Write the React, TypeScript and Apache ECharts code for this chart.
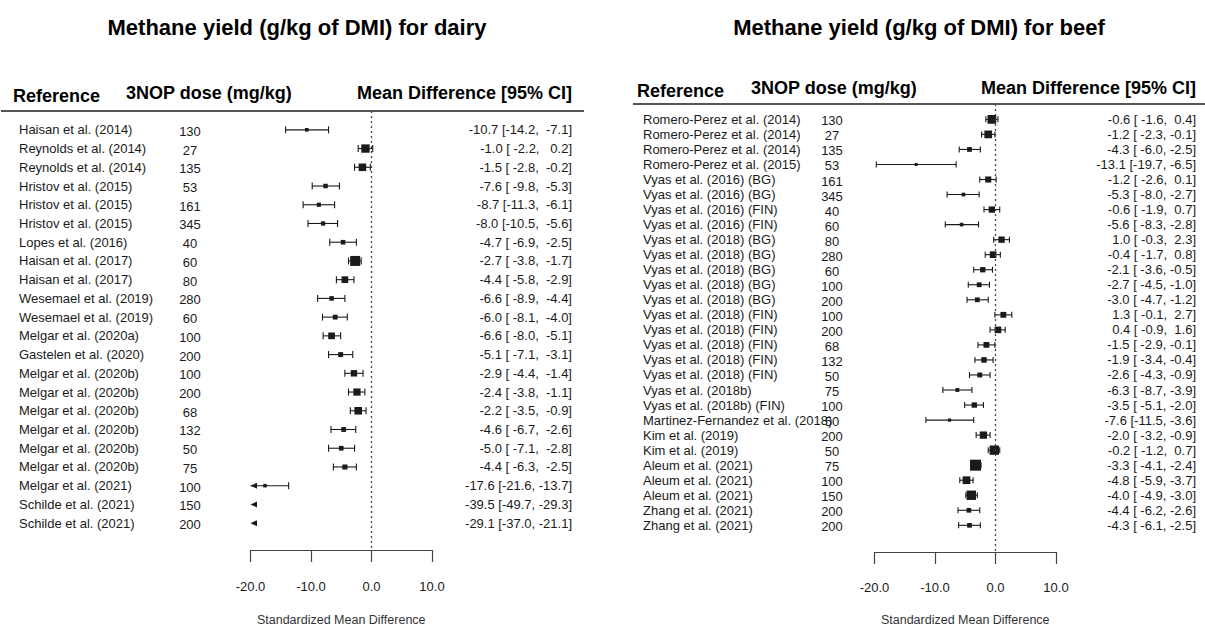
import React, { useEffect, useRef } from "react";
import * as echarts from "echarts";

// ---- Dairy studies ----
const dairyRefs = [
  "Haisan et al. (2014)", "Reynolds et al. (2014)", "Reynolds et al. (2014)",
  "Hristov et al. (2015)", "Hristov et al. (2015)", "Hristov et al. (2015)",
  "Lopes et al. (2016)", "Haisan et al. (2017)", "Haisan et al. (2017)",
  "Wesemael et al. (2019)", "Wesemael et al. (2019)", "Melgar et al. (2020a)",
  "Gastelen et al. (2020)", "Melgar et al. (2020b)", "Melgar et al. (2020b)",
  "Melgar et al. (2020b)", "Melgar et al. (2020b)", "Melgar et al. (2020b)",
  "Melgar et al. (2020b)", "Melgar et al. (2021)", "Schilde et al. (2021)",
  "Schilde et al. (2021)",
];
const dairyDose = [130, 27, 135, 53, 161, 345, 40, 60, 80, 280, 60, 100, 200, 100, 200, 68, 132, 50, 75, 100, 150, 200];
const dairyMean = [-10.7, -1.0, -1.5, -7.6, -8.7, -8.0, -4.7, -2.7, -4.4, -6.6, -6.0, -6.6, -5.1, -2.9, -2.4, -2.2, -4.6, -5.0, -4.4, -17.6, -39.5, -29.1];
const dairyLower = [-14.2, -2.2, -2.8, -9.8, -11.3, -10.5, -6.9, -3.8, -5.8, -8.9, -8.1, -8.0, -7.1, -4.4, -3.8, -3.5, -6.7, -7.1, -6.3, -21.6, -49.7, -37.0];
const dairyUpper = [-7.1, 0.2, -0.2, -5.3, -6.1, -5.6, -2.5, -1.7, -2.9, -4.4, -4.0, -5.1, -3.1, -1.4, -1.1, -0.9, -2.6, -2.8, -2.5, -13.7, -29.3, -21.1];

// ---- Beef studies ----
const beefRefs = [
  "Romero-Perez et al. (2014)", "Romero-Perez et al. (2014)", "Romero-Perez et al. (2014)",
  "Romero-Perez et al. (2015)", "Vyas et al. (2016) (BG)", "Vyas et al. (2016) (BG)",
  "Vyas et al. (2016) (FIN)", "Vyas et al. (2016) (FIN)", "Vyas et al. (2018) (BG)",
  "Vyas et al. (2018) (BG)", "Vyas et al. (2018) (BG)", "Vyas et al. (2018) (BG)",
  "Vyas et al. (2018) (BG)", "Vyas et al. (2018) (FIN)", "Vyas et al. (2018) (FIN)",
  "Vyas et al. (2018) (FIN)", "Vyas et al. (2018) (FIN)", "Vyas et al. (2018) (FIN)",
  "Vyas et al. (2018b)", "Vyas et al. (2018b) (FIN)", "Martinez-Fernandez et al. (2018)",
  "Kim et al. (2019)", "Kim et al. (2019)", "Aleum et al. (2021)", "Aleum et al. (2021)",
  "Aleum et al. (2021)", "Zhang et al. (2021)", "Zhang et al. (2021)",
];
const beefDose = [130, 27, 135, 53, 161, 345, 40, 60, 80, 280, 60, 100, 200, 100, 200, 68, 132, 50, 75, 100, 50, 200, 50, 75, 100, 150, 200, 200];
const beefMean = [-0.6, -1.2, -4.3, -13.1, -1.2, -5.3, -0.6, -5.6, 1.0, -0.4, -2.1, -2.7, -3.0, 1.3, 0.4, -1.5, -1.9, -2.6, -6.3, -3.5, -7.6, -2.0, -0.2, -3.3, -4.8, -4.0, -4.4, -4.3];
const beefLower = [-1.6, -2.3, -6.0, -19.7, -2.6, -8.0, -1.9, -8.3, -0.3, -1.7, -3.6, -4.5, -4.7, -0.1, -0.9, -2.9, -3.4, -4.3, -8.7, -5.1, -11.5, -3.2, -1.2, -4.1, -5.9, -4.9, -6.2, -6.1];
const beefUpper = [0.4, -0.1, -2.5, -6.5, 0.1, -2.7, 0.7, -2.8, 2.3, 0.8, -0.5, -1.0, -1.2, 2.7, 1.6, -0.1, -0.4, -0.9, -3.9, -2.0, -3.6, -0.9, 0.7, -2.4, -3.7, -3.0, -2.6, -2.5];

// ---- Axis ----
const AXIS_MIN = -20;
const AXIS_MAX = 10;
const AXIS_STEP = 10;

const FONT = '"Liberation Sans", Arial, Helvetica, sans-serif';
const INK = "#1a1a1a";
const GREY = "#444";

type Panel = {
  title: string;
  refs: string[];
  dose: number[];
  mean: number[];
  lower: number[];
  upper: number[];
  axisLeft: number;
  axisRight: number;
  headerY: number;
  axisY: number;
  firstRowY: number;
  rowStep: number;
  refX: number;
  doseX: number;
  ciX: number;
  titleX: number;
  headLeft: number;
  headRight: number;
  refHeadX: number;
  doseHeadX: number;
  refHeadY: number;
  colHeadY: number;
  cap: number;
  sizeMin: number;
  sizeMax: number;
  labelMargin: number;
  nameGap: number;
};

const panels: Panel[] = [
  {
    title: "Methane yield (g/kg of DMI) for dairy",
    refs: dairyRefs, dose: dairyDose, mean: dairyMean, lower: dairyLower, upper: dairyUpper,
    axisLeft: 250.5, axisRight: 432, headerY: 111, axisY: 554, firstRowY: 130, rowStep: 18.9,
    refX: 19, doseX: 190, ciX: 572, titleX: 297,
    headLeft: 1, headRight: 584, refHeadX: 13, doseHeadX: 126, refHeadY: 96, colHeadY: 93,
    cap: 3.5, sizeMin: 3.5, sizeMax: 10, labelMargin: 30, nameGap: 63,
  },
  {
    title: "Methane yield (g/kg of DMI) for beef",
    refs: beefRefs, dose: beefDose, mean: beefMean, lower: beefLower, upper: beefUpper,
    axisLeft: 874.5, axisRight: 1056, headerY: 104, axisY: 556, firstRowY: 119.5, rowStep: 15.17,
    refX: 643, doseX: 832, ciX: 1196, titleX: 919,
    headLeft: 633, headRight: 1205, refHeadX: 637, doseHeadX: 751, refHeadY: 91, colHeadY: 88,
    cap: 3, sizeMin: 3, sizeMax: 11, labelMargin: 28.5, nameGap: 61,
  },
];

function fmt(v: number, width: number): string {
  const s = v.toFixed(1);
  return s.length >= width ? s : " ".repeat(width - s.length) + s;
}

function ciText(p: Panel, i: number): string {
  const lw = Math.max(...p.lower.map((v) => v.toFixed(1).length));
  const uw = Math.max(...p.upper.map((v) => v.toFixed(1).length));
  return `${p.mean[i].toFixed(1)} [${fmt(p.lower[i], lw)}, ${fmt(p.upper[i], uw)}]`;
}

function buildOption() {
  const grids: any[] = [];
  const xAxes: any[] = [];
  const yAxes: any[] = [];
  const series: any[] = [];
  const graphics: any[] = [];

  panels.forEach((p, k) => {
    const yMin = (p.headerY - p.firstRowY) / p.rowStep;
    const yMax = (p.axisY - p.firstRowY) / p.rowStep;

    grids.push({
      left: p.axisLeft,
      width: p.axisRight - p.axisLeft,
      top: p.headerY,
      height: p.axisY - p.headerY,
      containLabel: false,
    });
    xAxes.push({
      type: "value",
      gridIndex: k,
      min: AXIS_MIN,
      max: AXIS_MAX,
      interval: AXIS_STEP,
      position: "bottom",
      splitLine: { show: false },
      axisLine: { show: true, onZero: false, lineStyle: { color: GREY, width: 1.2 } },
      axisTick: { show: true, length: 12, lineStyle: { color: GREY, width: 1.2 } },
      axisLabel: {
        formatter: (v: number) => v.toFixed(1),
        fontSize: 13,
        fontFamily: FONT,
        color: INK,
        margin: p.labelMargin,
      },
      name: "Standardized Mean Difference",
      nameLocation: "middle",
      nameGap: p.nameGap,
      nameTextStyle: { fontSize: 12.5, fontFamily: FONT, color: "#333" },
    });
    yAxes.push({
      type: "value",
      gridIndex: k,
      inverse: true,
      min: yMin,
      max: yMax,
      show: false,
    });

    // weights: inverse variance from the CI width, scaled over rows drawn in range
    const weight = p.lower.map((lo, i) => 1 / Math.pow(p.upper[i] - lo, 2));
    const shown = p.mean.map((m) => m >= AXIS_MIN && m <= AXIS_MAX);
    const ws = weight.filter((_, i) => shown[i]);
    const wLo = Math.min(...ws);
    const wHi = Math.max(...ws);
    const markData = p.mean.map((m, i) => {
      const t = shown[i] ? (weight[i] - wLo) / (wHi - wLo) : 0;
      return [i, m, p.lower[i], p.upper[i], p.sizeMin + t * (p.sizeMax - p.sizeMin)];
    });

    // Confidence intervals and study squares
    series.push({
      type: "custom",
      xAxisIndex: k,
      yAxisIndex: k,
      clip: false,
      data: markData,
      encode: { x: [1, 2, 3], y: 0 },
      renderItem: (params: any, api: any) => {
        const row = api.value(0);
        const m = api.value(1);
        const lo = api.value(2);
        const hi = api.value(3);
        const s = api.value(4);
        const y = api.coord([0, row])[1];
        const left = api.coord([AXIS_MIN, row])[0];
        const right = api.coord([AXIS_MAX, row])[0];
        const line = { stroke: INK, lineWidth: 1.1 };
        const children: any[] = [];
        const arrowLeft = (x: number) => ({
          type: "polygon",
          shape: { points: [[x, y], [x + 6.5, y - 3], [x + 6.5, y + 3]] },
          style: { fill: INK },
        });
        const arrowRight = (x: number) => ({
          type: "polygon",
          shape: { points: [[x, y], [x - 6.5, y - 3], [x - 6.5, y + 3]] },
          style: { fill: INK },
        });
        if (hi < AXIS_MIN) {
          children.push(arrowLeft(left));
        } else if (lo > AXIS_MAX) {
          children.push(arrowRight(right));
        } else {
          const x1 = api.coord([Math.max(lo, AXIS_MIN), row])[0];
          const x2 = api.coord([Math.min(hi, AXIS_MAX), row])[0];
          children.push({ type: "line", shape: { x1, y1: y, x2, y2: y }, style: line });
          if (lo < AXIS_MIN) children.push(arrowLeft(x1));
          else children.push({ type: "line", shape: { x1, y1: y - p.cap, x2: x1, y2: y + p.cap }, style: line });
          if (hi > AXIS_MAX) children.push(arrowRight(x2));
          else children.push({ type: "line", shape: { x1: x2, y1: y - p.cap, x2, y2: y + p.cap }, style: line });
          if (m >= AXIS_MIN && m <= AXIS_MAX) {
            const cx = api.coord([m, row])[0];
            children.push({
              type: "rect",
              shape: { x: cx - s / 2, y: y - s / 2, width: s, height: s },
              style: { fill: INK },
            });
          }
        }
        return { type: "group", children };
      },
      markLine: {
        silent: true,
        symbol: "none",
        label: { show: false },
        lineStyle: { color: GREY, type: [2, 3], width: 1.3 },
        data: [{ xAxis: 0 }],
      },
      z: 3,
    });

    // Study label, dose and CI text columns
    series.push({
      type: "custom",
      xAxisIndex: k,
      yAxisIndex: k,
      clip: false,
      data: p.refs.map((_, i) => [i, p.mean[i]]),
      encode: { y: 0 },
      renderItem: (params: any, api: any) => {
        const i = params.dataIndex;
        const y = api.coord([0, api.value(0)])[1];
        const base = { fill: INK, font: `13px ${FONT}`, textVerticalAlign: "middle" };
        return {
          type: "group",
          children: [
            { type: "text", style: { ...base, text: p.refs[i], x: p.refX, y, textAlign: "left" } },
            { type: "text", style: { ...base, text: String(p.dose[i]), x: p.doseX, y: y + 1.5, textAlign: "center" } },
            { type: "text", style: { ...base, text: ciText(p, i), x: p.ciX, y, textAlign: "right" } },
          ],
        };
      },
      z: 2,
    });

    // Titles, column headings and heading rule
    graphics.push(
      {
        type: "text",
        x: p.titleX,
        y: 27,
        style: { text: p.title, font: `bold 22px ${FONT}`, fill: "#000", textAlign: "center", textVerticalAlign: "middle" },
      },
      {
        type: "text",
        x: p.refHeadX,
        y: p.refHeadY,
        style: { text: "Reference", font: `bold 18px ${FONT}`, fill: "#000", textAlign: "left", textVerticalAlign: "middle" },
      },
      {
        type: "text",
        x: p.doseHeadX,
        y: p.colHeadY,
        style: { text: "3NOP dose (mg/kg)", font: `bold 18px ${FONT}`, fill: "#000", textAlign: "left", textVerticalAlign: "middle" },
      },
      {
        type: "text",
        x: p.ciX,
        y: p.colHeadY,
        style: { text: "Mean Difference [95% CI]", font: `bold 18px ${FONT}`, fill: "#000", textAlign: "right", textVerticalAlign: "middle" },
      },
      {
        type: "line",
        shape: { x1: p.headLeft, y1: p.headerY, x2: p.headRight, y2: p.headerY },
        style: { stroke: "#555", lineWidth: 1.8 },
      }
    );
  });

  return {
    animation: false,
    backgroundColor: "#fff",
    grid: grids,
    xAxis: xAxes,
    yAxis: yAxes,
    series,
    graphic: graphics,
  };
}

export default function App() {
  const ref = useRef<HTMLDivElement>(null);
  useEffect(() => {
    if (!ref.current) return;
    const chart = echarts.init(ref.current, undefined, { renderer: "svg" });
    chart.setOption(buildOption() as any);
    return () => chart.dispose();
  }, []);
  return (
    <div
      ref={ref}
      style={{ position: "fixed", left: 0, top: 0, width: 1205, height: 631, background: "#fff" }}
    />
  );
}
